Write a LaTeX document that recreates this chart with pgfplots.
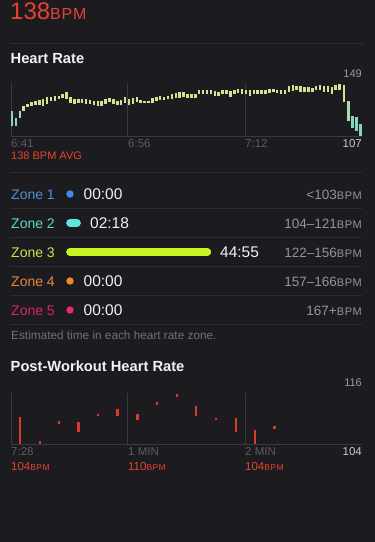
\documentclass[border=0pt]{standalone}
\usepackage{fontspec}
\setmainfont{Liberation Sans}
\usepackage{pgfplots}
\pgfplotsset{compat=1.18}
\usepackage{pgfplotstable}

\definecolor{bg}{HTML}{1C1B20}
\definecolor{sepc}{HTML}{2E2D33}
\definecolor{gridc}{HTML}{3A393F}
\definecolor{hrred}{HTML}{E5432F}
\definecolor{barred}{HTML}{D93A2B}
\definecolor{txtw}{HTML}{F2F2F4}
\definecolor{tickg}{HTML}{5C5C61}
\definecolor{topg}{HTML}{9A9A9F}
\definecolor{botg}{HTML}{C7C7CC}
\definecolor{rangeg}{HTML}{94949A}
\definecolor{noteg}{HTML}{707075}
\definecolor{hrmain}{HTML}{D8DE92}
\definecolor{hrmid}{HTML}{A8DDB0}
\definecolor{hrteal}{HTML}{86D6C4}
\definecolor{zlA}{HTML}{4F8FD6}
\definecolor{zlB}{HTML}{5FD8CC}
\definecolor{zlC}{HTML}{C6E84A}
\definecolor{zlD}{HTML}{E5893A}
\definecolor{zlE}{HTML}{D7275F}
\definecolor{zmA}{HTML}{3D8EE8}
\definecolor{zmB}{HTML}{5EE6E0}
\definecolor{zmC}{HTML}{C8F520}
\definecolor{zmD}{HTML}{F08A24}
\definecolor{zmE}{HTML}{F0246A}

\newcommand{\smallbpm}[1]{{\fontsize{#1}{#1}\selectfont\addfontfeatures{LetterSpace=5}BPM}}

% heart rate range bars: x position, low, high (BPM)
\pgfplotstableread{
x lo hi
12.0 114.8 126.9
15.9 114.8 121.5
352.7 113.5 122.9
356.7 110.8 122.1
360.7 107.0 116.2
}\hrtealtab
\pgfplotstableread{
x lo hi
19.8 121.5 126.9
348.5 118.9 135.0
}\hrmidtab
\pgfplotstableread{
x lo hi
23.7 126.9 131.0
27.6 129.6 132.3
31.5 131.0 133.7
35.4 131.2 134.5
39.3 131.8 135.5
43.2 131.0 136.4
47.1 132.3 137.7
51.0 134.5 138.2
54.9 135.0 139.0
58.8 136.3 139.0
62.7 137.2 139.9
66.6 136.3 141.7
70.5 132.9 137.7
74.4 132.3 136.4
78.3 132.9 136.4
82.2 132.9 136.4
86.1 132.3 136.1
90.0 132.3 135.5
93.9 131.8 135.0
97.8 131.0 135.0
101.7 131.0 134.5
105.6 132.3 136.4
109.5 133.7 137.2
113.4 132.3 136.4
117.3 131.8 134.5
121.2 131.8 135.5
125.1 132.9 138.2
129.0 131.8 136.4
132.9 132.3 137.2
136.8 133.7 137.7
140.7 132.9 135.5
144.6 132.9 135.0
148.5 132.9 135.0
152.4 132.9 137.2
156.3 135.0 138.2
160.2 135.5 139.0
164.1 135.5 138.2
168.0 136.4 139.0
171.9 136.4 140.4
175.8 137.2 140.9
179.7 137.2 141.7
183.6 137.7 141.7
187.5 137.2 139.9
191.4 137.2 140.4
195.3 137.2 140.4
199.2 139.9 143.6
203.1 140.4 143.6
207.0 139.9 143.6
210.9 139.9 143.1
214.8 139.0 142.5
218.7 139.0 141.7
222.6 140.4 143.6
226.5 140.4 143.6
230.4 138.2 142.5
234.3 140.4 143.6
238.2 140.9 144.4
242.1 140.4 144.4
246.0 139.9 143.6
249.9 139.0 143.6
253.8 140.4 143.1
257.7 139.9 143.1
261.6 140.4 143.1
265.5 140.4 143.6
269.4 140.9 144.4
273.3 141.7 144.4
277.2 140.9 143.6
281.1 140.4 143.6
285.0 139.9 143.1
288.9 141.7 146.3
292.8 142.5 147.1
296.7 143.1 146.3
300.6 141.7 146.3
304.5 141.7 145.8
308.4 141.7 145.8
312.3 141.7 145.2
316.2 143.1 146.3
320.1 143.1 147.1
324.0 141.7 146.3
327.9 141.7 146.3
331.8 140.4 145.8
335.7 143.1 147.1
339.6 143.6 147.9
344.0 133.7 147.1
}\hrmaintab
% post-workout range bars
\pgfplotstableread{
x lo hi
19.7 104.2 110.4
39.7 104.2 104.7
58.7 108.8 109.4
78.3 107.0 109.3
98.0 110.6 111.2
117.3 110.6 112.3
137.3 109.7 111.1
156.7 113.3 113.9
176.7 115.1 115.7
196.0 110.7 113.0
216.0 109.6 110.2
235.7 107.0 110.2
255.0 104.1 107.4
274.3 107.7 108.3
}\posttab
% time in zone (seconds)
\pgfplotstableread{
zone sec
1 0
2 138
3 2695
4 0
5 0
}\zonetab

\pgfplotsset{
  panel/.style={scale only axis, width=351pt, xmin=11, xmax=362,
    axis x line*=bottom, axis y line=none,
    axis line style={draw=gridc, line width=0.8pt},
    xtick={11,127.7,245}, xticklabels={}, major tick length=0pt,
    xmajorgrids, grid style={draw=gridc, line width=0.8pt},
    ytick=\empty, clip=false},
  rangebar/.style n args={2}{draw=none, no markers,
    error bars/.cd, y dir=plus, y explicit, error mark=none,
    error bar style={line width=#1, draw=#2, solid}},
  zonebar/.style n args={2}{draw=none, no markers,
    error bars/.cd, x dir=plus, x explicit, error mark=none,
    error bar style={line width=7.2pt, draw=#1, line cap=round, solid}},
  zonedot/.style={only marks, mark=*, mark size=3.6pt,
    mark options={fill=#1, draw=#1, line width=0.01pt, solid}},
}

\begin{document}
\begin{tikzpicture}
\path[use as bounding box, fill=bg] (0pt,0pt) rectangle (375pt,542pt);

% header
\node[anchor=base west, inner sep=0, text=hrred, font=\fontsize{24}{24}\selectfont] at (10pt,522pt) {138\smallbpm{16}};
\draw[sepc, line width=0.7pt] (10pt,499pt) -- (363pt,499pt);
\node[anchor=base west, inner sep=0, text=txtw, font=\bfseries\fontsize{14.7}{15}\selectfont] at (10.5pt,478pt) {Heart Rate};
\node[anchor=base east, inner sep=0, text=topg, font=\fontsize{11}{11}\selectfont] at (362pt,464pt) {149};

% heart rate chart
\begin{axis}[panel, at={(11pt,406pt)}, anchor=south west, height=53pt, ymin=107, ymax=149]
\addplot[rangebar={2.5pt}{hrmain}] table[x=x, y=lo, y error expr=\thisrow{hi}-\thisrow{lo}] {\hrmaintab};
\addplot[rangebar={2.5pt}{hrmid}] table[x=x, y=lo, y error expr=\thisrow{hi}-\thisrow{lo}] {\hrmidtab};
\addplot[rangebar={2.5pt}{hrteal}] table[x=x, y=lo, y error expr=\thisrow{hi}-\thisrow{lo}] {\hrtealtab};
\end{axis}

\foreach \xx/\lab in {11/6:41, 128/6:56, 245/7:12}
  \node[anchor=base west, inner sep=0, text=tickg, font=\fontsize{11.5}{12}\selectfont] at (\xx pt,394pt) {\lab};
\node[anchor=base east, inner sep=0, text=botg, font=\fontsize{11.5}{12}\selectfont] at (362pt,394pt) {107};
\node[anchor=base west, inner sep=0, text=hrred, font=\fontsize{11}{11}\selectfont] at (11pt,382pt) {138 BPM AVG};

% zone separators
\foreach \yy in {370,334,305,275.5,246.5,218}
  \draw[sepc, line width=0.7pt] (10pt,\yy pt) -- (362pt,\yy pt);

% zone labels
\foreach \yy/\lab/\col in {342/Zone 1/zlA, 313/Zone 2/zlB, 284/Zone 3/zlC, 255/Zone 4/zlD, 226/Zone 5/zlE}
  \node[anchor=base west, inner sep=0, text=\col, font=\fontsize{14}{14}\selectfont] at (11pt,\yy pt) {\lab};

% zone bars (seconds in zone)
\begin{axis}[at={(70pt,348pt)}, anchor=north west, scale only axis, width=137.4pt, height=116pt,
  xmin=0, xmax=2695, ymin=1, ymax=5, y dir=reverse, hide axis, clip=false]
\addplot[zonebar={zmB}{}] table[x expr=0, y=zone, x error=sec, restrict expr to domain={\thisrow{zone}}{2:2}] {\zonetab};
\addplot[zonebar={zmC}{}] table[x expr=0, y=zone, x error=sec, restrict expr to domain={\thisrow{zone}}{3:3}] {\zonetab};
\addplot[zonedot=zmA] table[x=sec, y=zone, restrict expr to domain={\thisrow{zone}}{1:1}] {\zonetab};
\addplot[zonedot=zmB] table[x=sec, y=zone, restrict expr to domain={\thisrow{zone}}{2:2}] {\zonetab};
\addplot[zonedot=zmB] table[x expr=0, y=zone, restrict expr to domain={\thisrow{zone}}{2:2}] {\zonetab};
\addplot[zonedot=zmC] table[x=sec, y=zone, restrict expr to domain={\thisrow{zone}}{3:3}] {\zonetab};
\addplot[zonedot=zmC] table[x expr=0, y=zone, restrict expr to domain={\thisrow{zone}}{3:3}] {\zonetab};
\addplot[zonedot=zmD] table[x=sec, y=zone, restrict expr to domain={\thisrow{zone}}{4:4}] {\zonetab};
\addplot[zonedot=zmE] table[x=sec, y=zone, restrict expr to domain={\thisrow{zone}}{5:5}] {\zonetab};
\end{axis}

% zone times
\foreach \xx/\yy/\lab in {83.5/342/00:00, 90/313/02:18, 220/284/44:55, 83.5/255/00:00, 83.5/226/00:00}
  \node[anchor=base west, inner sep=0, text=txtw, font=\fontsize{15.5}{16}\selectfont] at (\xx pt,\yy pt) {\lab};

% zone ranges
\foreach \yy/\lab in {342/<103, 313/104–121, 284/122–156, 255/157–166, 226/167+}
  \node[anchor=base east, inner sep=0, text=rangeg, font=\fontsize{13.5}{14}\selectfont] at (362pt,\yy pt) {\lab\smallbpm{11}};

\node[anchor=base west, inner sep=0, text=noteg, font=\fontsize{11.8}{12}\selectfont] at (11pt,202pt) {Estimated time in each heart rate zone.};

% post-workout
\node[anchor=base west, inner sep=0, text=txtw, font=\bfseries\fontsize{14.7}{15}\selectfont] at (10.5pt,170pt) {Post-Workout Heart Rate};
\node[anchor=base east, inner sep=0, text=topg, font=\fontsize{11}{11}\selectfont] at (362pt,155pt) {116};

\begin{axis}[panel, at={(11pt,97.5pt)}, anchor=south west, height=51.5pt, ymin=104, ymax=116]
\addplot[rangebar={2.4pt}{barred}] table[x=x, y=lo, y error expr=\thisrow{hi}-\thisrow{lo}] {\posttab};
\end{axis}

\foreach \xx/\lab in {11/7:28, 128/1 MIN, 245/2 MIN}
  \node[anchor=base west, inner sep=0, text=tickg, font=\fontsize{11.5}{12}\selectfont] at (\xx pt,86pt) {\lab};
\node[anchor=base east, inner sep=0, text=botg, font=\fontsize{11.5}{12}\selectfont] at (362pt,86pt) {104};
\foreach \xx/\lab in {11/104, 128/110, 245/104}
  \node[anchor=base west, inner sep=0, text=hrred, font=\fontsize{11.5}{12}\selectfont] at (\xx pt,71pt) {\lab\smallbpm{8.5}};
\end{tikzpicture}
\end{document}
